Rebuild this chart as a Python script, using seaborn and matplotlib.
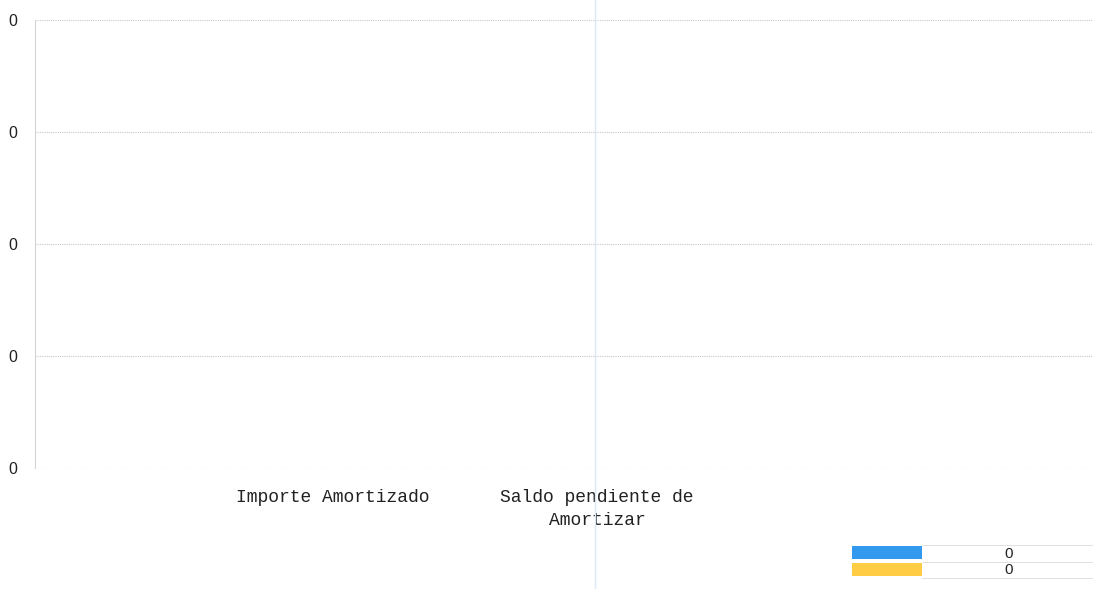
import matplotlib
matplotlib.use("Agg")
import matplotlib.pyplot as plt
import seaborn as sns
import pandas as pd
from matplotlib.ticker import FormatStrFormatter
from matplotlib.patches import Patch
from matplotlib.lines import Line2D

# data: both amounts are zero
categories = ["Importe Amortizado", "Saldo pendiente de\nAmortizar"]
values = [0, 0]
colors = ["#3399ee", "#ffcc44"]
y_ticks = [0, 0.1, 0.2, 0.3, 0.4]

df = pd.DataFrame({"Concepto": categories, "Importe": values})

sns.set_theme(style="white")
plt.rcParams["font.family"] = ["Liberation Sans", "DejaVu Sans"]

fig = plt.figure(figsize=(10.93, 5.89), dpi=100)
ax = fig.add_axes([0.032, 0.2054, 0.968, 0.7606])

sns.barplot(data=df, x="Concepto", y="Importe", hue="Concepto",
            palette=colors, legend=False, width=0.6, ax=ax)

ax.set_xlim(-1.13, 2.88)
ax.set_ylim(y_ticks[0], y_ticks[-1])
ax.set_yticks(y_ticks)
ax.yaxis.set_major_formatter(FormatStrFormatter("%.0f"))
ax.set_xlabel("")
ax.set_ylabel("")

ax.grid(axis="y", color="#c8c8c8", linestyle=(0, (1, 1)), linewidth=0.8)
ax.tick_params(axis="y", length=0, pad=13, labelsize=11.5, labelcolor="#222222")
ax.tick_params(axis="x", length=0, pad=15, labelsize=13, labelcolor="#222222")
for lab in ax.get_xticklabels():
    lab.set_family("Liberation Mono")
    lab.set_linespacing(1.45)

for side in ["top", "right", "bottom"]:
    ax.spines[side].set_visible(False)
ax.spines["left"].set_color("#d5d5d5")
ax.spines["left"].set_linestyle((0, (1, 1)))
ax.spines["left"].set_linewidth(0.8)

# faint fold line from the scan
fig.add_artist(Line2D([0.5444, 0.5444], [0, 1], color="#dbe8f3", linewidth=1))

# legend: colour swatch + value
handles = [Patch(facecolor=c, edgecolor="none") for c in colors]
labels = [f"{v:.0f}" for v in values]
fig.legend(handles, labels, loc="upper left",
           bbox_to_anchor=(852 / 1093, 1 - 546 / 589),
           frameon=False, fontsize=11, borderpad=0, borderaxespad=0,
           handlelength=4.6, handleheight=0.92, labelspacing=0.13,
           handletextpad=5.4, labelcolor="#222222")
for yy in [545, 562, 578]:
    fig.add_artist(Line2D([922 / 1093, 1], [1 - yy / 589] * 2,
                          color="#e0e0e0", linewidth=0.7))

fig.savefig("out.png", dpi=100)
